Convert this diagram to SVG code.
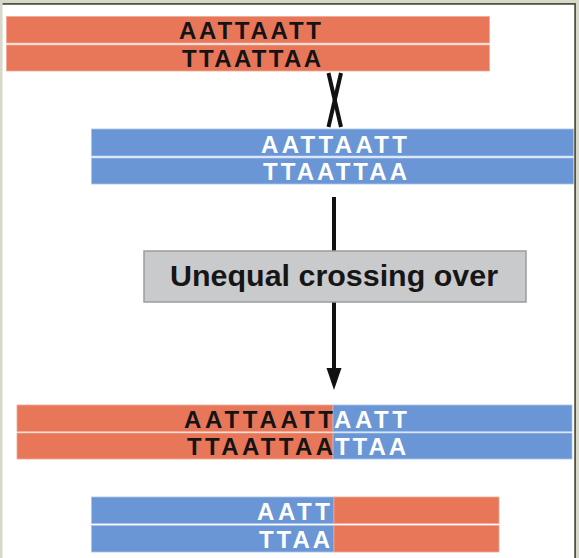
<svg xmlns="http://www.w3.org/2000/svg" width="579" height="558" viewBox="0 0 579 558">
  <style>
    .red { fill: #e8775a; stroke: #f1a995; stroke-width: 0.8; }
    .blue { fill: #6a96d6; stroke: #a9c2ea; stroke-width: 0.8; }
    .seq { font-family: "Liberation Sans", Arial, sans-serif; font-weight: bold; font-size: 24px; }
    .dark { fill: #141414; }
    .light { fill: #ffffff; }
    .label { font-family: "Liberation Sans", Arial, sans-serif; font-weight: bold; font-size: 30px; fill: #161616; }
    .conn { stroke: #111111; stroke-width: 4; fill: none; }
  </style>
  <rect x="0" y="0" width="579" height="558" fill="#ffffff"/>
  <g id="frame">
    <rect x="0" y="0" width="579" height="3" fill="#d7d8ca"/>
    <rect x="0" y="0" width="2.5" height="558" fill="#d7d8ca"/>
    <rect x="576" y="0" width="3" height="558" fill="#d7d8ca"/>
    <rect x="2.5" y="3" width="573.5" height="1.8" fill="#55553f"/>
    <rect x="574.2" y="3" width="1.8" height="555" fill="#55553f"/>
  </g>

  <g id="connectors">
    <line class="conn" x1="328.5" y1="73" x2="341" y2="127" stroke-width="3.5"/>
    <line class="conn" x1="341" y1="73" x2="328.5" y2="127" stroke-width="3.5"/>
    <line class="conn" x1="334" y1="197" x2="334" y2="370"/>
    <polygon points="326.5,368 341.5,368 334,390" fill="#111111"/>
  </g>

  <g id="red-dna">
    <rect class="red" x="6.5" y="16.5" width="483" height="26.5"/>
    <rect class="red" x="6.5" y="45" width="483" height="26"/>
    <text class="seq dark" x="321" y="39" text-anchor="end" textLength="142" lengthAdjust="spacing">AATTAATT</text>
    <text class="seq dark" x="321" y="67" text-anchor="end" textLength="139" lengthAdjust="spacing">TTAATTAA</text>
  </g>

  <g id="blue-dna">
    <rect class="blue" x="91.5" y="129" width="482" height="27"/>
    <rect class="blue" x="91.5" y="158" width="482" height="26"/>
    <text class="seq light" x="261" y="153" textLength="146" lengthAdjust="spacing">AATTAATT</text>
    <text class="seq light" x="263" y="180" textLength="144" lengthAdjust="spacing">TTAATTAA</text>
  </g>

  <g id="process-box">
    <rect x="144" y="251" width="382" height="51" fill="#c9cacc" stroke="#9b9c9e" stroke-width="1.5"/>
    <text class="label" x="334" y="286" text-anchor="middle" textLength="328" lengthAdjust="spacingAndGlyphs">Unequal crossing over</text>
  </g>

  <g id="recombinant-long">
    <rect class="red" x="17" y="405" width="316" height="26.5"/>
    <rect class="red" x="17" y="433" width="316" height="26"/>
    <rect class="blue" x="333" y="405" width="239" height="26.5"/>
    <rect class="blue" x="333" y="433" width="239" height="26"/>
    <text class="seq dark" x="333" y="428" text-anchor="end" textLength="149" lengthAdjust="spacing">AATTAATT</text>
    <text class="seq dark" x="333" y="455" text-anchor="end" textLength="146" lengthAdjust="spacing">TTAATTAA</text>
    <text class="seq light" x="334" y="428" textLength="73" lengthAdjust="spacing">AATT</text>
    <text class="seq light" x="335" y="455" textLength="71" lengthAdjust="spacing">TTAA</text>
  </g>

  <g id="recombinant-short">
    <rect class="blue" x="91.5" y="497" width="242.5" height="26.5"/>
    <rect class="blue" x="91.5" y="525.5" width="242.5" height="26.5"/>
    <rect class="red" x="334" y="497" width="165" height="26.5"/>
    <rect class="red" x="334" y="525.5" width="165" height="26.5"/>
    <text class="seq light" x="330" y="520" text-anchor="end" textLength="73" lengthAdjust="spacing">AATT</text>
    <text class="seq light" x="330" y="548" text-anchor="end" textLength="71" lengthAdjust="spacing">TTAA</text>
  </g>
</svg>
